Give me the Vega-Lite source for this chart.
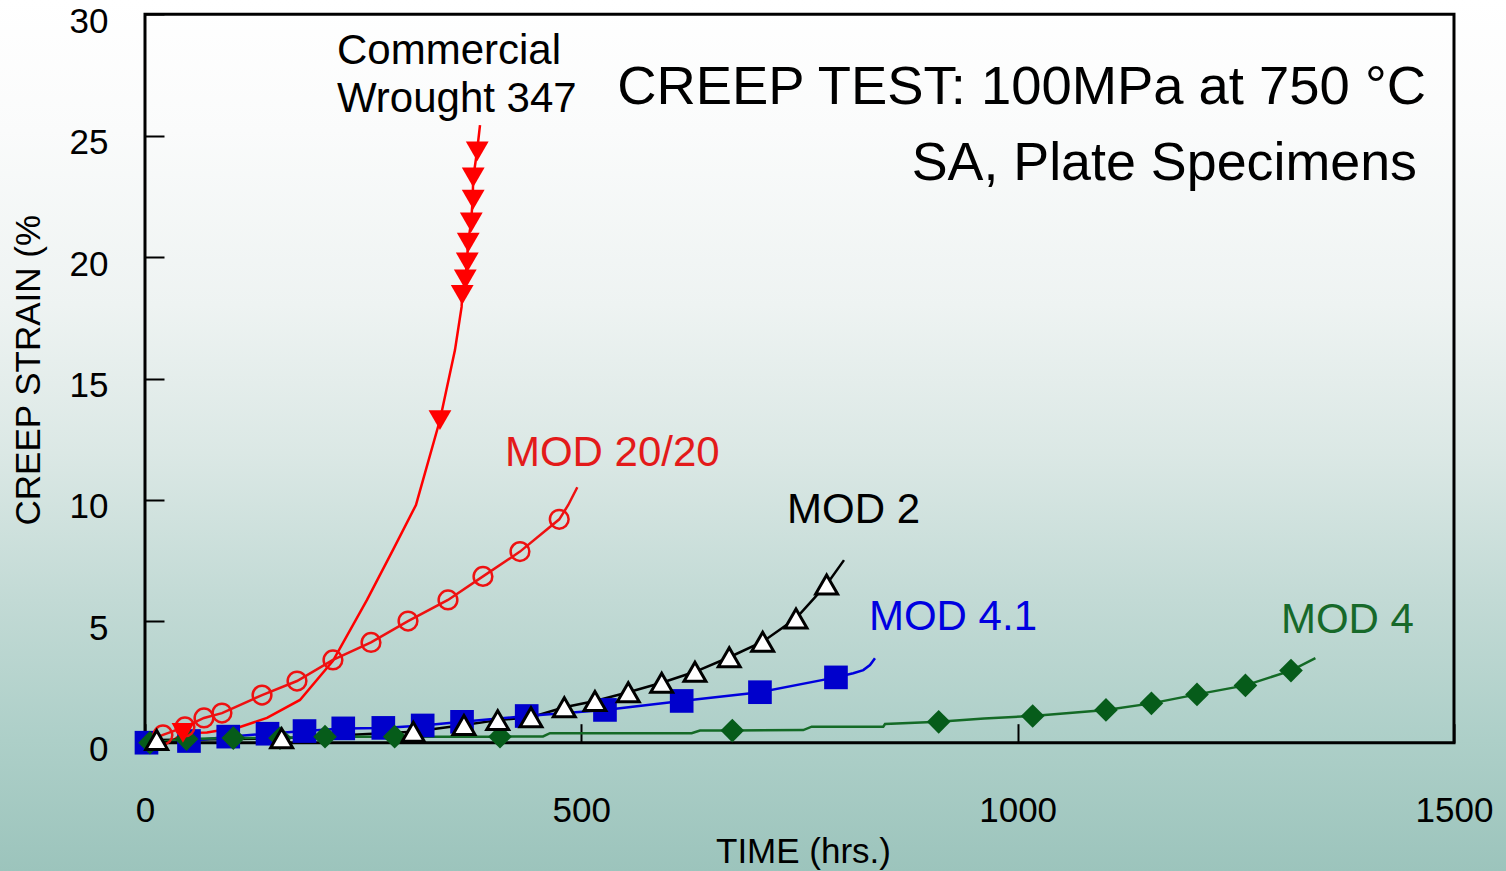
{
  "$schema": "https://vega.github.io/schema/vega-lite/v6.json",
  "width": 1506,
  "height": 871,
  "autosize": {"type": "none"},
  "padding": 0,
  "background": "#b5d3cd",
  "view": {
    "stroke": null,
    "fill": {
      "gradient": "linear", "x1": 0, "y1": 0, "x2": 0, "y2": 1,
      "stops": [
        {"offset": 0, "color": "#ffffff"},
        {"offset": 0.15, "color": "#fafbfb"},
        {"offset": 0.35, "color": "#eef3f2"},
        {"offset": 0.52, "color": "#dbe8e5"},
        {"offset": 0.69, "color": "#c2dad5"},
        {"offset": 0.85, "color": "#adcfc8"},
        {"offset": 1, "color": "#9cc4bc"}
      ]
    }
  },
  "config": {"font": "Liberation Sans", "text": {"font": "Liberation Sans"}},
  "datasets": {
    "curves": [
      {"series": "W347", "time": 28.6, "strain": 0.0},
      {"series": "W347", "time": 43.5, "strain": 0.40},
      {"series": "W347", "time": 71.0, "strain": 0.42},
      {"series": "W347", "time": 108.9, "strain": 0.65},
      {"series": "W347", "time": 139.8, "strain": 1.02},
      {"series": "W347", "time": 177.6, "strain": 1.76},
      {"series": "W347", "time": 215.4, "strain": 3.37},
      {"series": "W347", "time": 254.4, "strain": 5.88},
      {"series": "W347", "time": 284.2, "strain": 7.94},
      {"series": "W347", "time": 310.5, "strain": 9.79},
      {"series": "W347", "time": 312.8, "strain": 10.08},
      {"series": "W347", "time": 338.0, "strain": 13.29},
      {"series": "W347", "time": 355.2, "strain": 16.17},
      {"series": "W347", "time": 357.5, "strain": 16.71},
      {"series": "W347", "time": 362.8, "strain": 17.95},
      {"series": "W347", "time": 363.5, "strain": 18.44},
      {"series": "W347", "time": 366.7, "strain": 19.06},
      {"series": "W347", "time": 369.0, "strain": 19.76},
      {"series": "W347", "time": 370.1, "strain": 20.58},
      {"series": "W347", "time": 373.6, "strain": 21.41},
      {"series": "W347", "time": 375.5, "strain": 22.36},
      {"series": "W347", "time": 376.1, "strain": 23.26},
      {"series": "W347", "time": 380.4, "strain": 24.33},
      {"series": "W347", "time": 383.9, "strain": 25.44},

      {"series": "MOD 20/20", "time": 0, "strain": 0},
      {"series": "MOD 20/20", "time": 20.6, "strain": 0.32},
      {"series": "MOD 20/20", "time": 45.8, "strain": 0.65},
      {"series": "MOD 20/20", "time": 67.6, "strain": 1.02},
      {"series": "MOD 20/20", "time": 88.2, "strain": 1.22},
      {"series": "MOD 20/20", "time": 134.1, "strain": 1.96},
      {"series": "MOD 20/20", "time": 174.2, "strain": 2.54},
      {"series": "MOD 20/20", "time": 215.4, "strain": 3.41},
      {"series": "MOD 20/20", "time": 259.0, "strain": 4.13},
      {"series": "MOD 20/20", "time": 301.4, "strain": 5.01},
      {"series": "MOD 20/20", "time": 347.2, "strain": 5.88},
      {"series": "MOD 20/20", "time": 387.3, "strain": 6.85},
      {"series": "MOD 20/20", "time": 429.7, "strain": 7.87},
      {"series": "MOD 20/20", "time": 474.7, "strain": 9.20},
      {"series": "MOD 20/20", "time": 485.0, "strain": 9.79},
      {"series": "MOD 20/20", "time": 495.4, "strain": 10.52},

      {"series": "MOD 2", "time": 0, "strain": 0},
      {"series": "MOD 2", "time": 13.4, "strain": 0.11},
      {"series": "MOD 2", "time": 156.6, "strain": 0.18},
      {"series": "MOD 2", "time": 307.4, "strain": 0.45},
      {"series": "MOD 2", "time": 365.5, "strain": 0.73},
      {"series": "MOD 2", "time": 404.2, "strain": 0.93},
      {"series": "MOD 2", "time": 442.3, "strain": 1.05},
      {"series": "MOD 2", "time": 480.5, "strain": 1.46},
      {"series": "MOD 2", "time": 515.6, "strain": 1.72},
      {"series": "MOD 2", "time": 553.8, "strain": 2.08},
      {"series": "MOD 2", "time": 592.1, "strain": 2.47},
      {"series": "MOD 2", "time": 630.2, "strain": 2.92},
      {"series": "MOD 2", "time": 669.5, "strain": 3.52},
      {"series": "MOD 2", "time": 707.8, "strain": 4.16},
      {"series": "MOD 2", "time": 746.0, "strain": 5.12},
      {"series": "MOD 2", "time": 781.1, "strain": 6.52},
      {"series": "MOD 2", "time": 801.0, "strain": 7.52},

      {"series": "MOD 4.1", "time": 1.7, "strain": 0},
      {"series": "MOD 4.1", "time": 50.4, "strain": 0.07},
      {"series": "MOD 4.1", "time": 95.4, "strain": 0.25},
      {"series": "MOD 4.1", "time": 140.4, "strain": 0.37},
      {"series": "MOD 4.1", "time": 182.8, "strain": 0.48},
      {"series": "MOD 4.1", "time": 227.2, "strain": 0.59},
      {"series": "MOD 4.1", "time": 273.1, "strain": 0.61},
      {"series": "MOD 4.1", "time": 318.2, "strain": 0.71},
      {"series": "MOD 4.1", "time": 363.3, "strain": 0.86},
      {"series": "MOD 4.1", "time": 437.4, "strain": 1.10},
      {"series": "MOD 4.1", "time": 527.1, "strain": 1.35},
      {"series": "MOD 4.1", "time": 615.0, "strain": 1.72},
      {"series": "MOD 4.1", "time": 704.7, "strain": 2.08},
      {"series": "MOD 4.1", "time": 791.8, "strain": 2.69},
      {"series": "MOD 4.1", "time": 811.6, "strain": 2.86},
      {"series": "MOD 4.1", "time": 823.1, "strain": 2.99},
      {"series": "MOD 4.1", "time": 830.8, "strain": 3.20},
      {"series": "MOD 4.1", "time": 836.5, "strain": 3.48},

      {"series": "MOD 4", "time": 5.7, "strain": 0},
      {"series": "MOD 4", "time": 47.6, "strain": 0.15},
      {"series": "MOD 4", "time": 101.2, "strain": 0.19},
      {"series": "MOD 4", "time": 154.7, "strain": 0.19},
      {"series": "MOD 4", "time": 206.3, "strain": 0.25},
      {"series": "MOD 4", "time": 286.1, "strain": 0.25},
      {"series": "MOD 4", "time": 406.8, "strain": 0.25},
      {"series": "MOD 4", "time": 456.1, "strain": 0.26},
      {"series": "MOD 4", "time": 464.1, "strain": 0.39},
      {"series": "MOD 4", "time": 626.4, "strain": 0.39},
      {"series": "MOD 4", "time": 636.0, "strain": 0.50},
      {"series": "MOD 4", "time": 673.0, "strain": 0.50},
      {"series": "MOD 4", "time": 754.3, "strain": 0.52},
      {"series": "MOD 4", "time": 764.0, "strain": 0.66},
      {"series": "MOD 4", "time": 846.0, "strain": 0.66},
      {"series": "MOD 4", "time": 848.0, "strain": 0.77},
      {"series": "MOD 4", "time": 909.5, "strain": 0.86},
      {"series": "MOD 4", "time": 961.6, "strain": 1.00},
      {"series": "MOD 4", "time": 1017.2, "strain": 1.10},
      {"series": "MOD 4", "time": 1101.2, "strain": 1.35},
      {"series": "MOD 4", "time": 1153.3, "strain": 1.62},
      {"series": "MOD 4", "time": 1205.5, "strain": 1.99},
      {"series": "MOD 4", "time": 1261.0, "strain": 2.36},
      {"series": "MOD 4", "time": 1313.2, "strain": 2.97},
      {"series": "MOD 4", "time": 1341.2, "strain": 3.48}
    ],
    "markers": [
      {"series": "MOD 4.1", "time": 1.7, "strain": 0},
      {"series": "MOD 4.1", "time": 50.4, "strain": 0.07},
      {"series": "MOD 4.1", "time": 95.4, "strain": 0.25},
      {"series": "MOD 4.1", "time": 140.4, "strain": 0.37},
      {"series": "MOD 4.1", "time": 182.8, "strain": 0.48},
      {"series": "MOD 4.1", "time": 227.2, "strain": 0.59},
      {"series": "MOD 4.1", "time": 273.1, "strain": 0.61},
      {"series": "MOD 4.1", "time": 318.2, "strain": 0.71},
      {"series": "MOD 4.1", "time": 363.3, "strain": 0.86},
      {"series": "MOD 4.1", "time": 437.4, "strain": 1.10},
      {"series": "MOD 4.1", "time": 527.1, "strain": 1.35},
      {"series": "MOD 4.1", "time": 615.0, "strain": 1.72},
      {"series": "MOD 4.1", "time": 704.7, "strain": 2.08},
      {"series": "MOD 4.1", "time": 791.8, "strain": 2.69},

      {"series": "MOD 4", "time": 5.7, "strain": 0},
      {"series": "MOD 4", "time": 47.6, "strain": 0.15},
      {"series": "MOD 4", "time": 101.2, "strain": 0.19},
      {"series": "MOD 4", "time": 154.7, "strain": 0.19},
      {"series": "MOD 4", "time": 206.3, "strain": 0.25},
      {"series": "MOD 4", "time": 286.1, "strain": 0.25},
      {"series": "MOD 4", "time": 406.8, "strain": 0.25},
      {"series": "MOD 4", "time": 673.0, "strain": 0.50},
      {"series": "MOD 4", "time": 909.5, "strain": 0.86},
      {"series": "MOD 4", "time": 1017.2, "strain": 1.10},
      {"series": "MOD 4", "time": 1101.2, "strain": 1.35},
      {"series": "MOD 4", "time": 1153.3, "strain": 1.62},
      {"series": "MOD 4", "time": 1205.5, "strain": 1.99},
      {"series": "MOD 4", "time": 1261.0, "strain": 2.36},
      {"series": "MOD 4", "time": 1313.2, "strain": 2.97},

      {"series": "MOD 20/20", "time": 20.6, "strain": 0.32},
      {"series": "MOD 20/20", "time": 45.8, "strain": 0.65},
      {"series": "MOD 20/20", "time": 67.6, "strain": 1.02},
      {"series": "MOD 20/20", "time": 88.2, "strain": 1.22},
      {"series": "MOD 20/20", "time": 134.1, "strain": 1.96},
      {"series": "MOD 20/20", "time": 174.2, "strain": 2.54},
      {"series": "MOD 20/20", "time": 215.4, "strain": 3.41},
      {"series": "MOD 20/20", "time": 259.0, "strain": 4.13},
      {"series": "MOD 20/20", "time": 301.4, "strain": 5.01},
      {"series": "MOD 20/20", "time": 347.2, "strain": 5.88},
      {"series": "MOD 20/20", "time": 387.3, "strain": 6.85},
      {"series": "MOD 20/20", "time": 429.7, "strain": 7.87},
      {"series": "MOD 20/20", "time": 474.7, "strain": 9.20},

      {"series": "W347", "time": 43.5, "strain": 0.40},
      {"series": "W347", "time": 338.0, "strain": 13.29},
      {"series": "W347", "time": 363.5, "strain": 18.44},
      {"series": "W347", "time": 367.0, "strain": 19.08},
      {"series": "W347", "time": 369.3, "strain": 19.78},
      {"series": "W347", "time": 370.4, "strain": 20.60},
      {"series": "W347", "time": 373.9, "strain": 21.43},
      {"series": "W347", "time": 376.1, "strain": 22.37},
      {"series": "W347", "time": 376.1, "strain": 23.28},
      {"series": "W347", "time": 380.7, "strain": 24.35},

      {"series": "MOD 2", "time": 13.4, "strain": 0.11},
      {"series": "MOD 2", "time": 156.6, "strain": 0.18},
      {"series": "MOD 2", "time": 307.4, "strain": 0.45},
      {"series": "MOD 2", "time": 365.5, "strain": 0.73},
      {"series": "MOD 2", "time": 404.2, "strain": 0.93},
      {"series": "MOD 2", "time": 442.3, "strain": 1.05},
      {"series": "MOD 2", "time": 480.5, "strain": 1.46},
      {"series": "MOD 2", "time": 515.6, "strain": 1.72},
      {"series": "MOD 2", "time": 553.8, "strain": 2.08},
      {"series": "MOD 2", "time": 592.1, "strain": 2.47},
      {"series": "MOD 2", "time": 630.2, "strain": 2.92},
      {"series": "MOD 2", "time": 669.5, "strain": 3.52},
      {"series": "MOD 2", "time": 707.8, "strain": 4.16},
      {"series": "MOD 2", "time": 746.0, "strain": 5.12},
      {"series": "MOD 2", "time": 781.1, "strain": 6.52}
    ]
  },
  "layer": [
    {
      "data": {"name": "curves"},
      "mark": {"type": "line", "strokeWidth": 2.5, "clip": false},
      "encoding": {
        "x": {"field": "time", "type": "quantitative",
          "scale": {"domain": [-166.15, 1559.6], "nice": false, "zero": false},
          "axis": {
            "values": [0, 500, 1000, 1500], "format": "d", "offset": -128.3,
            "domain": false, "grid": false, "ticks": true, "tickSize": -19, "tickWidth": 2, "tickColor": "#000000",
            "labelPadding": 70, "labelFontSize": 35, "labelColor": "#000000", "labelFont": "Liberation Sans",
            "labelFlush": false, "labelOverlap": false,
            "title": "TIME (hrs.)", "titleX": 803, "titleY": 119.3, "titleAlign": "center", "titleBaseline": "alphabetic",
            "titleFontSize": 35, "titleFontWeight": "normal", "titleColor": "#000000", "titleFont": "Liberation Sans"
          }
        },
        "y": {"field": "strain", "type": "quantitative",
          "scale": {"domain": [-5.284, 30.589], "nice": false, "zero": false},
          "axis": {
            "values": [0, 5, 10, 15, 20, 25, 30], "format": "d", "offset": -145,
            "domain": false, "grid": false, "ticks": true, "tickSize": -19, "tickWidth": 2, "tickColor": "#000000",
            "labelPadding": 56, "labelOffset": 7, "labelBaseline": "middle", "labelAlign": "right",
            "labelFontSize": 35, "labelColor": "#000000", "labelFont": "Liberation Sans",
            "labelFlush": false, "labelOverlap": false,
            "title": "CREEP STRAIN (%", "titleAngle": -90, "titleX": -117, "titleY": 525, "titleAlign": "left", "titleBaseline": "middle",
            "titleFontSize": 35, "titleFontWeight": "normal", "titleColor": "#000000", "titleFont": "Liberation Sans"
          }
        },
        "color": {"field": "series", "type": "nominal", "legend": null,
          "scale": {"domain": ["W347", "MOD 20/20", "MOD 2", "MOD 4.1", "MOD 4"],
                    "range": ["#ff0000", "#ee1111", "#000000", "#0000dd", "#146a26"]}}
      }
    },
    {
      "data": {"values": [{}]},
      "mark": {"type": "rect", "filled": false, "stroke": "#000000", "strokeWidth": 3},
      "encoding": {
        "x": {"datum": 0, "type": "quantitative"},
        "x2": {"datum": 1500},
        "y": {"datum": 0, "type": "quantitative"},
        "y2": {"datum": 30}
      }
    },
    {
      "data": {"name": "markers"},
      "transform": [{"filter": "datum.series === 'MOD 4.1'"}],
      "mark": {"type": "point", "shape": "square", "filled": true, "fill": "#0000cc", "opacity": 1, "size": 560, "strokeWidth": 0},
      "encoding": {
        "x": {"field": "time", "type": "quantitative"},
        "y": {"field": "strain", "type": "quantitative"}
      }
    },
    {
      "data": {"name": "markers"},
      "transform": [{"filter": "datum.series === 'MOD 4'"}],
      "mark": {"type": "point", "shape": "diamond", "filled": true, "fill": "#065c1a", "opacity": 1, "size": 560, "strokeWidth": 0},
      "encoding": {
        "x": {"field": "time", "type": "quantitative"},
        "y": {"field": "strain", "type": "quantitative"}
      }
    },
    {
      "data": {"name": "markers"},
      "transform": [{"filter": "datum.series === 'MOD 20/20'"}],
      "mark": {"type": "point", "shape": "circle", "filled": false, "stroke": "#ee1111", "strokeWidth": 2.5, "opacity": 1, "size": 350},
      "encoding": {
        "x": {"field": "time", "type": "quantitative"},
        "y": {"field": "strain", "type": "quantitative"}
      }
    },
    {
      "data": {"name": "markers"},
      "transform": [{"filter": "datum.series === 'W347'"}],
      "mark": {"type": "point", "shape": "triangle-down", "filled": true, "fill": "#ff0000", "opacity": 1, "size": 520, "strokeWidth": 0},
      "encoding": {
        "x": {"field": "time", "type": "quantitative"},
        "y": {"field": "strain", "type": "quantitative"}
      }
    },
    {
      "data": {"name": "markers"},
      "transform": [{"filter": "datum.series === 'MOD 2'"}],
      "mark": {"type": "point", "shape": "triangle-up", "filled": true, "fill": "#ffffff", "stroke": "#000000", "strokeWidth": 3, "opacity": 1, "size": 480},
      "encoding": {
        "x": {"field": "time", "type": "quantitative"},
        "y": {"field": "strain", "type": "quantitative"}
      }
    },
    {
      "data": {"values": [{}]},
      "mark": {"type": "text", "text": "Commercial\nWrought 347", "lineBreak": "\n", "lineHeight": 48, "align": "left", "baseline": "alphabetic", "fontSize": 42, "color": "#000000", "font": "Liberation Sans"},
      "encoding": {
        "x": {"datum": 220.0, "type": "quantitative"},
        "y": {"datum": 27.95, "type": "quantitative"}
      }
    },
    {
      "data": {"values": [{}]},
      "mark": {"type": "text", "text": "CREEP TEST: 100MPa at 750 °C", "align": "right", "baseline": "alphabetic", "fontSize": 54.4, "color": "#000000", "font": "Liberation Sans"},
      "encoding": {
        "x": {"datum": 1467.9, "type": "quantitative"},
        "y": {"datum": 26.31, "type": "quantitative"}
      }
    },
    {
      "data": {"values": [{}]},
      "mark": {"type": "text", "text": "SA, Plate Specimens", "align": "right", "baseline": "alphabetic", "fontSize": 53.8, "color": "#000000", "font": "Liberation Sans"},
      "encoding": {
        "x": {"datum": 1457.6, "type": "quantitative"},
        "y": {"datum": 23.17, "type": "quantitative"}
      }
    },
    {
      "data": {"values": [{}]},
      "mark": {"type": "text", "text": "MOD 20/20", "align": "left", "baseline": "alphabetic", "fontSize": 42, "color": "#e31a1a", "font": "Liberation Sans"},
      "encoding": {
        "x": {"datum": 412.5, "type": "quantitative"},
        "y": {"datum": 11.40, "type": "quantitative"}
      }
    },
    {
      "data": {"values": [{}]},
      "mark": {"type": "text", "text": "MOD 2", "align": "left", "baseline": "alphabetic", "fontSize": 42, "color": "#000000", "font": "Liberation Sans"},
      "encoding": {
        "x": {"datum": 735.7, "type": "quantitative"},
        "y": {"datum": 9.05, "type": "quantitative"}
      }
    },
    {
      "data": {"values": [{}]},
      "mark": {"type": "text", "text": "MOD 4.1", "align": "left", "baseline": "alphabetic", "fontSize": 42, "color": "#0000e0", "font": "Liberation Sans"},
      "encoding": {
        "x": {"datum": 829.6, "type": "quantitative"},
        "y": {"datum": 4.64, "type": "quantitative"}
      }
    },
    {
      "data": {"values": [{}]},
      "mark": {"type": "text", "text": "MOD 4", "align": "left", "baseline": "alphabetic", "fontSize": 42, "color": "#17692a", "font": "Liberation Sans"},
      "encoding": {
        "x": {"datum": 1301.7, "type": "quantitative"},
        "y": {"datum": 4.52, "type": "quantitative"}
      }
    }
  ]
}
